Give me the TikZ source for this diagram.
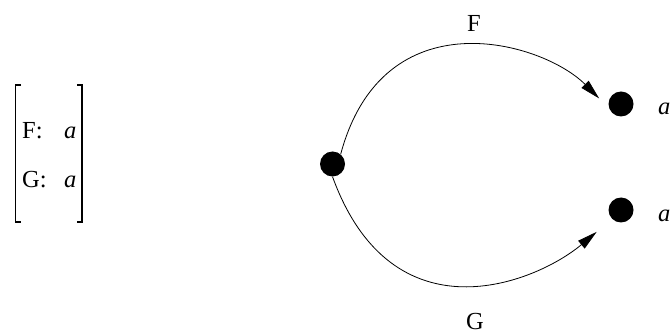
\documentclass[tikz,border=0pt]{standalone}
\usepackage{fontspec}
\setmainfont{Liberation Serif}
\usetikzlibrary{arrows.meta}
\tikzset{
  dot/.style={circle,fill=black,inner sep=0pt,minimum size=25pt},
  conn/.style={-{Triangle[length=20pt,width=10pt]},line width=0.8pt},
  lbl/.style={inner sep=0pt,anchor=base west},
  brk/.style={line width=1.5pt}
}
\begin{document}
\begin{tikzpicture}[x=1pt,y=1pt,every node/.style={font=\fontsize{24.5}{29}\selectfont}]
\useasboundingbox (0,-336) rectangle (671,0);
% vector of the two choices
\node[lbl] (fkey) at (22,-139) {F:};
\node[lbl] (fval) at (64,-139) {\textit{a}};
\node[lbl] (gkey) at (22,-188) {G:};
\node[lbl] (gval) at (64,-188) {\textit{a}};
\draw[brk] (21,-85) -- (15.5,-85) -- (15.5,-222) -- (21,-222);
\draw[brk] (77,-85) -- (82,-85) -- (82,-222) -- (77,-222);
% the two branches
\node[dot] (src) at (332.5,-164) {};
\node[dot] (fa) at (621,-104) {};
\node[dot] (ga) at (621,-210) {};
\node[lbl] (fal) at (658,-115) {\textit{a}};
\node[lbl] (gal) at (658,-222) {\textit{a}};
\draw[conn,shorten >=14pt] (src.50) .. controls +(75:164) and +(135:95) .. (fa.200);
\draw[conn,shorten >=20pt] (src.south) .. controls +(-70:175) and +(220:100) .. (ga.225);
\node[anchor=base] (flab) at (474,-32) {F};
\node[anchor=base] (glab) at (475,-329) {G};
\end{tikzpicture}
\end{document}
